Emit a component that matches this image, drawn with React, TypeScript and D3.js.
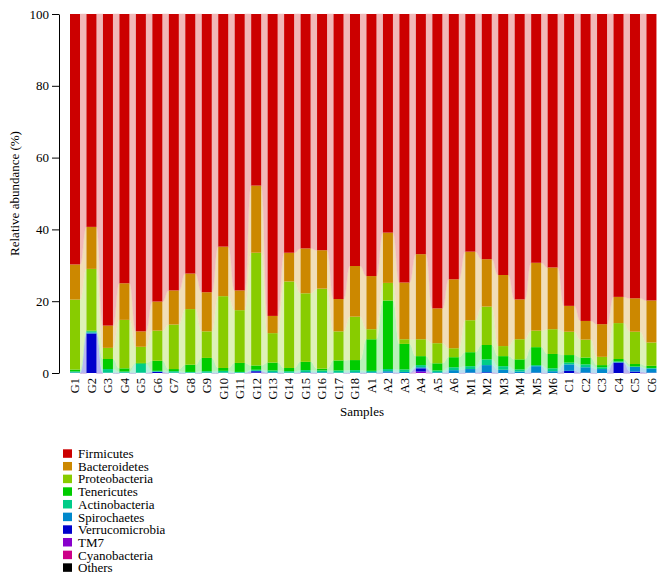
import * as d3 from 'd3';
import { useEffect, useRef } from 'react';

const width = 664;
const height = 581;
const margin = { top: 14, bottom: 373, left: 59 };

const samples = [
  'G1', 'G2', 'G3', 'G4', 'G5', 'G6', 'G7', 'G8', 'G9', 'G10', 'G11', 'G12',
  'G13', 'G14', 'G15', 'G16', 'G17', 'G18', 'A1', 'A2', 'A3', 'A4', 'A5', 'A6',
  'M1', 'M2', 'M3', 'M4', 'M5', 'M6', 'C1', 'C2', 'C3', 'C4', 'C5', 'C6',
];

// legend order (top of the stack first)
const phyla = [
  'Firmicutes', 'Bacteroidetes', 'Proteobacteria', 'Tenericutes', 'Actinobacteria',
  'Spirochaetes', 'Verrucomicrobia', 'TM7', 'Cyanobacteria', 'Others',
];
const colors = [
  '#cc0000', '#cc8800', '#88cc00', '#00cc00', '#00cc88',
  '#0088cc', '#0000cc', '#8800cc', '#cc0088', '#000000',
];

const firmicutes = [
  69.8, 59.3, 86.8, 75.0, 88.4, 80.1, 77.0, 72.3, 77.5, 64.8, 77.0, 47.8,
  84.1, 66.5, 65.3, 65.8, 79.4, 70.2, 73.0, 60.9, 74.8, 66.9, 82.0, 73.9,
  66.2, 68.3, 72.7, 79.5, 69.3, 70.6, 81.3, 85.5, 86.4, 78.8, 79.2, 79.8,
];
const bacteroidetes = [
  9.8, 11.7, 6.2, 10.2, 4.3, 8.1, 9.5, 9.9, 10.9, 13.8, 5.5, 18.7,
  4.8, 8.0, 12.5, 10.7, 9.0, 14.1, 14.8, 14.0, 15.8, 23.7, 9.7, 19.2,
  19.1, 13.2, 19.8, 11.1, 18.9, 17.2, 7.2, 5.2, 9.1, 7.3, 9.3, 11.7,
];
const proteobacteria = [
  19.5, 17.2, 3.1, 13.5, 4.5, 8.4, 12.4, 15.5, 7.4, 20.0, 14.7, 31.4,
  8.2, 24.1, 19.1, 22.3, 8.1, 12.1, 2.8, 4.9, 1.3, 4.7, 5.6, 2.5,
  8.9, 10.7, 2.8, 5.6, 4.6, 6.9, 6.5, 5.0, 2.3, 10.0, 9.0, 6.5,
];
const tenericutes = [
  0.5, 0.2, 2.8, 0.9, 0.2, 2.8, 0.6, 2.0, 3.7, 0.8, 2.5, 1.2,
  2.2, 0.9, 2.3, 0.5, 2.8, 2.8, 8.8, 19.1, 7.1, 2.5, 2.0, 2.8,
  3.9, 4.0, 2.8, 2.8, 5.0, 4.0, 2.1, 1.9, 0.6, 0.7, 0.7, 0.6,
];
const actinobacteria = [
  0.3, 0.3, 1.0, 0.3, 2.5, 0.2, 0.4, 0.2, 0.4, 0.5, 0.2, 0.3,
  0.5, 0.4, 0.6, 0.5, 0.6, 0.6, 0.4, 0.6, 0.7, 0.6, 0.5, 0.8,
  0.8, 1.6, 1.0, 0.6, 0.3, 0.8, 0.5, 0.8, 0.5, 0.2, 0.1, 0.2,
];
const spirochaetes = [
  0.1, 0.3, 0.1, 0.1, 0.1, 0.1, 0.1, 0.1, 0.1, 0.1, 0.1, 0.1,
  0.2, 0.1, 0.1, 0.2, 0.1, 0.2, 0.2, 0.4, 0.3, 0.3, 0.2, 0.8,
  1.0, 2.0, 0.9, 0.4, 1.8, 0.5, 1.8, 1.5, 1.1, 0.1, 1.3, 1.1,
];
const verrucomicrobia = [
  0.05, 11.0, 0, 0, 0, 0.3, 0, 0, 0, 0, 0, 0.4,
  0, 0, 0.1, 0, 0, 0, 0, 0.1, 0, 0.9, 0, 0,
  0.1, 0.2, 0, 0, 0.1, 0, 0.6, 0.1, 0, 2.9, 0.4, 0.1,
];
const tm7 = [
  0, 0, 0, 0, 0, 0, 0, 0, 0, 0, 0, 0.1,
  0, 0, 0, 0, 0, 0, 0, 0, 0, 0.4, 0, 0,
  0, 0, 0, 0, 0, 0, 0, 0, 0, 0, 0, 0,
];
const cyanobacteria = new Array(36).fill(0);
const others = new Array(36).fill(0);

const yTicks = [0, 20, 40, 60, 80, 100];

const seriesValues = [
  firmicutes, bacteroidetes, proteobacteria, tenericutes, actinobacteria,
  spirochaetes, verrucomicrobia, tm7, cyanobacteria, others,
];

const App = () => {
  const svgRef = useRef<SVGSVGElement>(null);

  useEffect(() => {
    const svg = d3.select(svgRef.current);
    svg.selectAll('*').remove();
    const font = "'Liberation Serif', 'DejaVu Serif', serif";

    const table = samples.map((s, i) => {
      const row: any = { sample: s };
      phyla.forEach((p, k) => (row[p] = seriesValues[k][i]));
      return row;
    });

    // stacked from the bottom: Others ... Firmicutes
    const keys = phyla.slice().reverse();
    const stacked = d3.stack().keys(keys).offset(d3.stackOffsetExpand)(table);
    const color = d3.scaleOrdinal<string, string>().domain(phyla).range(colors);

    const x = d3
      .scaleBand()
      .domain(samples)
      .range([65.06, 661.4])
      .paddingInner(0.393)
      .paddingOuter(0.3);
    const y = d3.scaleLinear().domain([0, 1]).range([margin.bottom, margin.top]);
    const bw = x.bandwidth();

    // pale ribbons joining neighbouring bars
    const gRibbon = svg.append('g');
    stacked.forEach((layer) => {
      const pale = d3.interpolateRgb('#ffffff', color(layer.key))(0.28);
      for (let i = 0; i < samples.length - 1; i++) {
        const a = layer[i];
        const b = layer[i + 1];
        const xa = x(samples[i])! + bw;
        const xb = x(samples[i + 1])!;
        const xm = (xa + xb) / 2;
        const p = d3.path();
        p.moveTo(xa, y(a[1]));
        p.bezierCurveTo(xm, y(a[1]), xm, y(b[1]), xb, y(b[1]));
        p.lineTo(xb, y(b[0]));
        p.bezierCurveTo(xm, y(b[0]), xm, y(a[0]), xa, y(a[0]));
        p.closePath();
        gRibbon
          .append('path')
          .attr('d', p.toString())
          .attr('fill', pale)
          .attr('stroke', pale)
          .attr('stroke-width', 0.4);
      }
    });

    const gBars = svg.append('g');
    gBars
      .selectAll('g')
      .data(stacked)
      .join('g')
      .attr('fill', (d) => color(d.key))
      .selectAll('rect')
      .data((d) => d)
      .join('rect')
      .attr('x', (d: any) => x(d.data.sample)!)
      .attr('y', (d) => y(d[1]))
      .attr('width', bw)
      .attr('height', (d) => Math.max(0, y(d[0]) - y(d[1])));

    // y axis
    const gy = svg
      .append('g')
      .attr('transform', `translate(${margin.left},0)`)
      .call(
        d3
          .axisLeft(y)
          .tickValues(yTicks.map((t) => t / 100))
          .tickFormat((d) => String(Math.round(+d * 100)))
          .tickSize(7)
          .tickSizeOuter(0)
          .tickPadding(3)
      );
    gy.attr('font-family', null).attr('font-size', null);
    gy.selectAll('text').style('font-family', font).style('font-size', '13px').attr('fill', '#000');
    gy.selectAll('line,path').attr('stroke', '#000');

    svg
      .append('text')
      .attr('transform', `translate(19,${(margin.top + margin.bottom) / 2}) rotate(-90)`)
      .attr('text-anchor', 'middle')
      .style('font-family', font)
      .style('font-size', '13px')
      .text('Relative abundance (%)');

    // sample labels
    svg
      .append('g')
      .selectAll('text')
      .data(samples)
      .join('text')
      .attr('transform', (d) => `translate(${x(d)! + bw / 2},378) rotate(-90)`)
      .attr('dy', '0.35em')
      .attr('text-anchor', 'end')
      .style('font-family', font)
      .style('font-size', '12.5px')
      .text((d) => d);

    svg
      .append('text')
      .attr('x', 362)
      .attr('y', 416)
      .attr('text-anchor', 'middle')
      .style('font-family', font)
      .style('font-size', '13px')
      .text('Samples');

    // legend
    const legend = svg
      .append('g')
      .selectAll('g')
      .data(phyla)
      .join('g')
      .attr('transform', (_, i) => `translate(63,${449.3 + i * 12.67})`);
    legend.append('rect').attr('width', 9).attr('height', 8.5).attr('fill', (d) => color(d));
    legend
      .append('text')
      .attr('x', 15)
      .attr('y', 4.3)
      .attr('dy', '0.35em')
      .style('font-family', font)
      .style('font-size', '13px')
      .text((d) => d);
  }, []);

  return (
    <div>
      <style>{'body{margin:0}'}</style>
      <svg ref={svgRef} width={width} height={height} viewBox={`0 0 ${width} ${height}`} />
    </div>
  );
};

export default App;
